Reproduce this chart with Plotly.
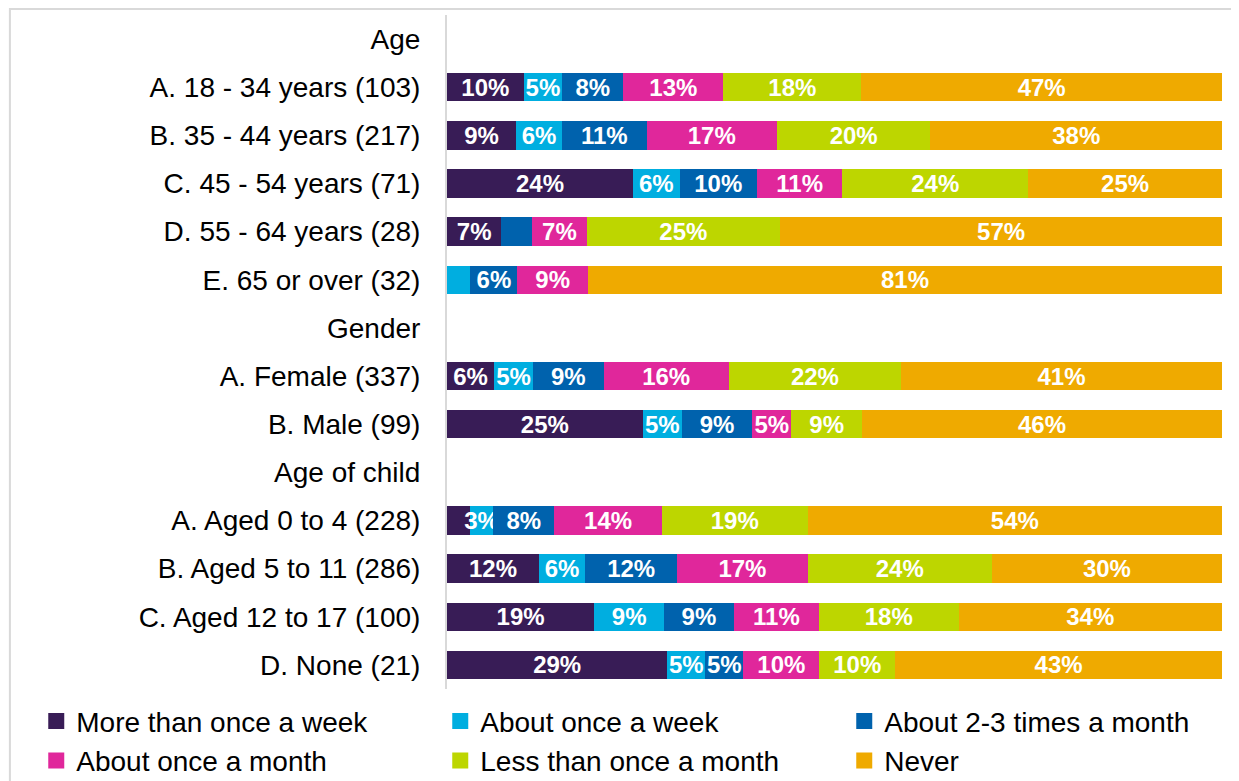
import plotly.graph_objects as go

categories = [
    "Age",
    "A. 18 - 34 years (103)",
    "B. 35 - 44 years (217)",
    "C. 45 - 54 years (71)",
    "D. 55 - 64 years (28)",
    "E. 65 or over (32)",
    "Gender",
    "A. Female (337)",
    "B. Male (99)",
    "Age of child",
    "A. Aged 0 to 4 (228)",
    "B. Aged 5 to 11 (286)",
    "C. Aged 12 to 17 (100)",
    "D. None (21)",
]

series_names = [
    "More than once a week",
    "About once a week",
    "About 2-3 times a month",
    "About once a month",
    "Less than once a month",
    "Never",
]

more_than_weekly = [None, 10, 9, 24, 7, 0, None, 6, 25, None, 3, 12, 19, 29]
once_a_week = [None, 5, 6, 6, 0, 3, None, 5, 5, None, 3, 6, 9, 5]
two_three_month = [None, 8, 11, 10, 4, 6, None, 9, 9, None, 8, 12, 9, 5]
once_a_month = [None, 13, 17, 11, 7, 9, None, 16, 5, None, 14, 17, 11, 10]
less_than_month = [None, 18, 20, 24, 25, 0, None, 22, 9, None, 19, 24, 18, 10]
never = [None, 47, 38, 25, 57, 81, None, 41, 46, None, 54, 30, 34, 43]

# labels the original chart leaves off (segments too narrow)
hidden_labels = [
    ("D. 55 - 64 years (28)", "About 2-3 times a month"),
    ("E. 65 or over (32)", "About once a week"),
    ("A. Aged 0 to 4 (228)", "More than once a week"),
]

colors = ["#381c56", "#00aee0", "#0062ad", "#e0279b", "#bdd600", "#efaa00"]

all_series = [more_than_weekly, once_a_week, two_three_month,
              once_a_month, less_than_month, never]

# 100% stacked: normalise each row to its total
row_totals = []
for i in range(len(categories)):
    vals = [s[i] for s in all_series]
    row_totals.append(None if vals[0] is None else sum(vals))

FONT = "Liberation Sans, Arial, sans-serif"

fig = go.Figure()
for name, values, color in zip(series_names, all_series, colors):
    widths, texts = [], []
    for cat, v, tot in zip(categories, values, row_totals):
        if v is None:
            widths.append(None)
            texts.append("")
            continue
        widths.append(v / tot * 100)
        if v == 0 or (cat, name) in hidden_labels:
            texts.append("")
        else:
            texts.append(f"{v}%")
    fig.add_trace(
        go.Bar(
            y=categories,
            x=widths,
            name=name,
            orientation="h",
            marker={"color": color, "line": {"width": 0}},
            text=texts,
            textposition="inside",
            insidetextanchor="middle",
            textangle=0,
            textfont={"family": FONT, "size": 24, "color": "white", "weight": "bold"},
            showlegend=False,
        )
    )
    # square legend markers
    fig.add_trace(
        go.Scatter(
            x=[None],
            y=[None],
            mode="markers",
            name=name,
            marker={"symbol": "square", "size": 16, "color": color},
            showlegend=True,
        )
    )

# chart area outline (top/left edges visible in the original)
fig.add_shape(
    type="rect", xref="paper", yref="paper",
    x0=-0.564, x1=1.2, y0=-0.5, y1=1.009,
    line={"color": "#d9d9d9", "width": 2}, layer="below",
)

# page body has an 8px margin, so the figure is sized to the visible area
fig.update_layout(
    barmode="stack",
    bargap=0.41,
    width=1231,
    height=773,
    margin={"l": 439, "r": 17, "t": 7, "b": 92, "autoexpand": False},
    paper_bgcolor="white",
    plot_bgcolor="white",
    font={"family": FONT, "size": 28, "color": "#000000"},
    uniformtext={"minsize": 24, "mode": "show"},
    xaxis={
        "range": [0, 100],
        "showgrid": False,
        "zeroline": False,
        "showticklabels": False,
        "fixedrange": True,
    },
    yaxis={
        "categoryorder": "array",
        "categoryarray": categories,
        "autorange": "reversed",
        "showline": True,
        "linecolor": "#d9d9d9",
        "linewidth": 2,
        "showgrid": False,
        "ticks": "",
        "ticklabelstandoff": 19,
        "tickfont": {"size": 28, "color": "#000000"},
    },
    legend={
        "orientation": "h",
        "traceorder": "normal",
        "x": -0.530,
        "xanchor": "left",
        "y": -0.011,
        "yanchor": "top",
        "entrywidth": 359,
        "font": {"size": 28},
        "itemwidth": 30,
        "tracegroupgap": 0,
    },
)

fig.write_html("out.html")
